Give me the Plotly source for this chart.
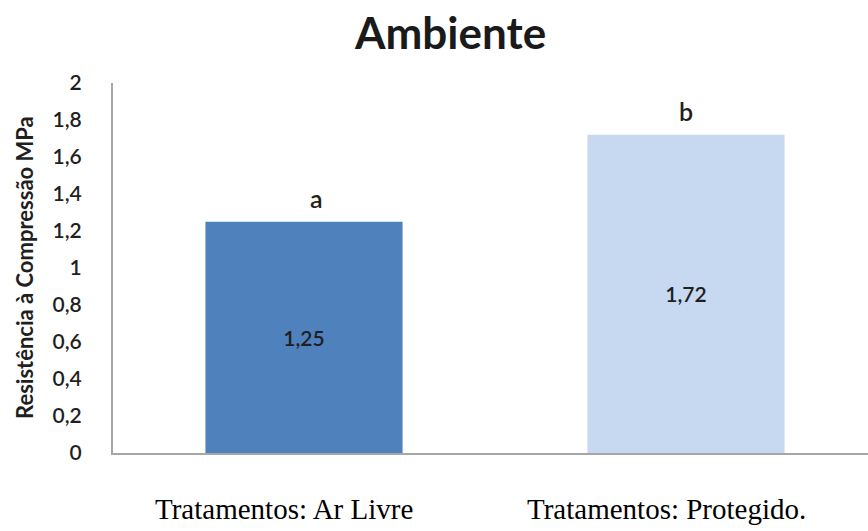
import plotly.graph_objects as go

# Compressive strength by curing environment
categories = ["Tratamentos: Ar Livre", "Tratamentos: Protegido."]
values = [1.25, 1.72]
value_labels = ["1,25", "1,72"]
group_letters = ["a", "b"]
bar_colors = ["#4F81BD", "#C6D9F1"]
y_ticks = [0, 0.2, 0.4, 0.6, 0.8, 1.0, 1.2, 1.4, 1.6, 1.8, 2.0]

W, H = 868, 531
L, R, T, B = 113, 0, 83, 78
plot_h = H - T - B

fig = go.Figure()
fig.add_trace(go.Bar(
    x=categories,
    y=values,
    marker=dict(color=bar_colors, line=dict(width=0)),
    text=value_labels,
    textposition="inside",
    insidetextanchor="middle",
    textangle=0,
    textfont=dict(family="Lato", size=21, color="#1f1f1f", weight=600),
    width=0.516,
    hoverinfo="skip",
))

# significance letters above each bar
letter_shift = [12, 0]
for cat, v, letter, dx in zip(categories, values, group_letters, letter_shift):
    fig.add_annotation(
        x=cat, y=v, xref="x", yref="y", text=letter, showarrow=False,
        yshift=24, xshift=dx, xanchor="center", yanchor="middle",
        font=dict(family="Lato", size=25, color="#1f1f1f", weight=600),
    )

# treatment names beneath the axis
for cat in categories:
    fig.add_annotation(
        x=cat, xref="x", yref="paper", y=-(509 - 453) / plot_h,
        text=cat, showarrow=False, xshift=-20,
        xanchor="center", yanchor="middle",
        font=dict(family="Liberation Serif", size=29, color="#000000"),
    )

# rotated y-axis title
fig.add_annotation(
    xref="paper", yref="paper", x=(24 - L) / (W - L - R), y=0.5,
    text="<b>Resistência à Compressão MPa</b>", showarrow=False,
    textangle=-90, xanchor="center", yanchor="middle",
    font=dict(family="Lato", size=22, color="#1f1f1f"),
)

# chart title
fig.add_annotation(
    xref="paper", yref="paper", x=(450 - L) / (W - L - R), y=(H - 32 - B) / plot_h,
    text="<b>Ambiente</b>", showarrow=False,
    xanchor="center", yanchor="middle",
    font=dict(family="Lato", size=44, color="#1a1a1a"),
)

fig.update_layout(
    width=W, height=H,
    margin=dict(l=L, r=R, t=T, b=B, autoexpand=False),
    paper_bgcolor="white", plot_bgcolor="white",
    separators=", ",
    showlegend=False,
    xaxis=dict(
        type="category",
        range=[-0.5, -0.5 + (W - L - R) / 382.0],
        showticklabels=False, ticks="",
        showline=True, linecolor="#a6a6a6", linewidth=2,
        showgrid=False, zeroline=False,
    ),
    yaxis=dict(
        range=[0, 2], tickvals=y_ticks, tickformat="~r",
        ticks="", ticklabelstandoff=25,
        tickfont=dict(family="Lato", size=21, color="#1f1f1f", weight=600),
        showline=True, linecolor="#a6a6a6", linewidth=2,
        showgrid=False, zeroline=False,
    ),
)

fig.write_html("out.html")
